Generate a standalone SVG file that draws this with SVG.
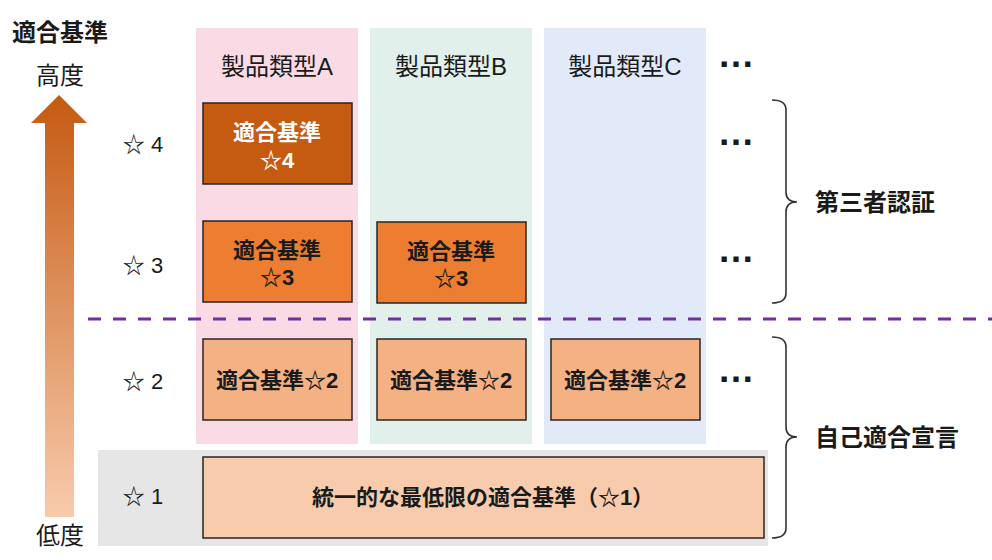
<svg xmlns="http://www.w3.org/2000/svg" width="992" height="560" viewBox="0 0 992 560">
<style>
text{font-family:"Liberation Sans","Noto Sans CJK JP",sans-serif;fill:#1a1a1a;dominant-baseline:central;text-anchor:middle}
.lbl{font-size:22px}
.hdr{font-size:24px}
.bt{font-size:22px;font-weight:bold}
.side{font-size:24px;font-weight:bold}
.box{stroke:#262626;stroke-width:1.5}
.dots{font-size:37px;font-weight:bold;dominant-baseline:alphabetic}
.br{fill:none;stroke:#333;stroke-width:1.6}
</style>
<defs>
<linearGradient id="ag" x1="0" y1="0" x2="0" y2="1">
<stop offset="0" stop-color="#c55a11"/>
<stop offset="1" stop-color="#f8cbad"/>
</linearGradient>
</defs>
<rect width="992" height="560" fill="#fff"/>
<g id="backgrounds">
<rect x="196" y="28" width="162" height="416" fill="#fadbe5"/>
<rect x="370" y="28" width="162" height="416" fill="#e1f0eb"/>
<rect x="544" y="28" width="162" height="416" fill="#e2eafa"/>
<rect x="98" y="450" width="670" height="96" fill="#e6e6e6"/>
</g>
<g id="axis">
<text x="60" y="32" class="side">適合基準</text>
<text x="60" y="75" class="hdr">高度</text>
<polygon points="59,95 87,123 74,123 74,517 45,517 45,123 31,123" fill="url(#ag)"/>
<text x="60" y="535" class="hdr">低度</text>
</g>
<g id="levels">
<text x="143" y="144" class="lbl">☆ 4</text>
<text x="143" y="265" class="lbl">☆ 3</text>
<text x="143" y="381" class="lbl">☆ 2</text>
<text x="143" y="496" class="lbl">☆ 1</text>
</g>
<g id="headers">
<text x="277" y="66" class="hdr">製品類型A</text>
<text x="451" y="66" class="hdr">製品類型B</text>
<text x="625" y="66" class="hdr">製品類型C</text>
<text x="736" y="67" class="dots">…</text>
</g>
<g id="nodeA4">
<rect x="203" y="103" width="149" height="81" fill="#c55a11" class="box"/>
<text x="277" y="132" class="bt" style="fill:#fff">適合基準</text>
<text x="277" y="160" class="bt" style="fill:#fff">☆4</text>
</g>
<g id="nodeA3">
<rect x="203" y="221" width="149" height="81" fill="#ed7d31" class="box"/>
<text x="277" y="250" class="bt">適合基準</text>
<text x="277" y="277" class="bt">☆3</text>
</g>
<g id="nodeB3">
<rect x="377" y="222" width="149" height="81" fill="#ed7d31" class="box"/>
<text x="451" y="251" class="bt">適合基準</text>
<text x="451" y="278" class="bt">☆3</text>
</g>
<g id="row4dots"><text x="736" y="145" class="dots">…</text></g>
<g id="row3dots"><text x="736" y="262" class="dots">…</text></g>
<g id="divider">
<line x1="88" y1="319" x2="992" y2="319" stroke="#7030a0" stroke-width="3" stroke-dasharray="13 12"/>
</g>
<g id="nodeA2">
<rect x="203" y="339" width="149" height="81" fill="#f4b183" class="box"/>
<text x="277" y="380" class="bt">適合基準☆2</text>
</g>
<g id="nodeB2">
<rect x="377" y="339" width="149" height="81" fill="#f4b183" class="box"/>
<text x="451" y="380" class="bt">適合基準☆2</text>
</g>
<g id="nodeC2">
<rect x="551" y="339" width="149" height="81" fill="#f4b183" class="box"/>
<text x="625" y="380" class="bt">適合基準☆2</text>
</g>
<g id="row2dots"><text x="736" y="382" class="dots">…</text></g>
<g id="node1">
<rect x="203" y="457" width="561" height="81" fill="#f8cbad" class="box"/>
<text x="483" y="497" class="bt">統一的な最低限の適合基準（☆1）</text>
</g>
<g id="brackets">
<path class="br" d="M772,100 Q786,100 786,110 L786,192 Q786,202 797,202 Q786,202 786,212 L786,293 Q786,303 772,303"/>
<path class="br" d="M772,337 Q786,337 786,347 L786,427 Q786,437 797,437 Q786,437 786,447 L786,528 Q786,538 772,538"/>
<text x="875" y="202" class="side">第三者認証</text>
<text x="887" y="437" class="side">自己適合宣言</text>
</g>
</svg>
